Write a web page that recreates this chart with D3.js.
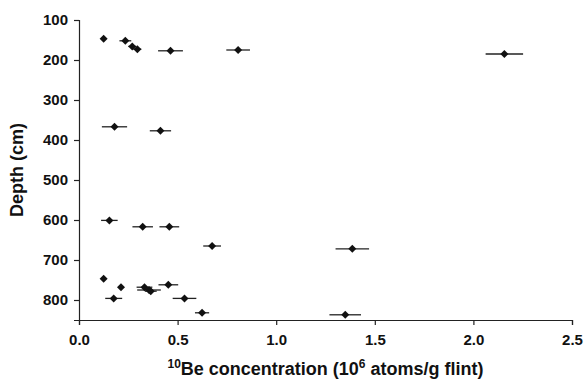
<!DOCTYPE html>
<html>
<head>
<meta charset="utf-8">
<script src="https://cdn.jsdelivr.net/npm/d3@7"></script>
<style>
  body { margin: 0; background: #fff; }
  text { font-family: "Liberation Sans", Arial, sans-serif; font-weight: 700; fill: #111; }
</style>
</head>
<body>
<div id="chart"></div>
<script>
// 10Be concentration (10^6 atoms/g flint) vs depth (cm)
const beConc = [0.125, 0.235, 0.27, 0.296, 0.464, 0.807, 2.157,
                0.18, 0.413,
                0.154, 0.323, 0.458, 0.675, 1.386,
                0.125, 0.213, 0.332, 0.355, 0.364, 0.453, 0.176, 0.535, 0.624, 1.35];
const depth  = [147, 152, 166, 173, 177, 175, 185,
                367, 377,
                601, 617, 617, 665, 672,
                747, 768, 768, 775, 778, 762, 796, 796, 832, 837];
const beErr  = [0.01, 0.03, 0.02, 0.02, 0.063, 0.06, 0.095,
                0.064, 0.054,
                0.042, 0.052, 0.05, 0.045, 0.085,
                0.0, 0.01, 0.04, 0.06, 0.03, 0.05, 0.043, 0.06, 0.036, 0.08];

const xTicks = [0, 0.5, 1.0, 1.5, 2.0, 2.5];
const yTicks = [100, 200, 300, 400, 500, 600, 700, 800];

const width = 584, height = 379;
const margin = {top: 20, right: 12, bottom: 59, left: 79};
const innerW = width - margin.left - margin.right;
const innerH = height - margin.top - margin.bottom;

const data = beConc.map((v, i) => ({v: v, d: depth[i], e: beErr[i]}));

const svg = d3.select("#chart").append("svg")
    .attr("width", width)
    .attr("height", height);

const g = svg.append("g")
    .attr("transform", "translate(" + margin.left + "," + margin.top + ")");

const x = d3.scaleLinear().domain([0, 2.5]).range([0, innerW]);
const y = d3.scaleLinear().domain([100, 850]).range([0, innerH]);

// x axis
const xAxis = g.append("g")
    .attr("transform", "translate(0," + innerH + ")")
    .call(d3.axisBottom(x).tickValues(xTicks).tickFormat(d3.format(".1f")).tickSizeOuter(0).tickSize(5).tickPadding(9));

// y axis
const yAxis = g.append("g")
    .call(d3.axisLeft(y).tickValues(yTicks).tickSizeOuter(0).tickSize(5).tickPadding(6));

[xAxis, yAxis].forEach(a => {
    a.attr("font-family", null).attr("font-size", null);
    a.select(".domain").attr("stroke", "#222").attr("stroke-width", 1.2);
    a.selectAll(".tick line").attr("stroke", "#222").attr("stroke-width", 1.2);
    a.selectAll(".tick text")
        .attr("font-size", "15px")
        .attr("font-weight", "700")
        .attr("fill", "#111");
});

// error bars
g.selectAll(".err").data(data.filter(d => d.e > 0)).enter()
    .append("line")
    .attr("x1", d => x(d.v - d.e))
    .attr("x2", d => x(d.v + d.e))
    .attr("y1", d => y(d.d))
    .attr("y2", d => y(d.d))
    .attr("stroke", "#222")
    .attr("stroke-width", 1.3);

// diamond markers
g.selectAll(".pt").data(data).enter()
    .append("path")
    .attr("d", d3.symbol().type(d3.symbolSquare).size(32))
    .attr("transform", d => "translate(" + x(d.v) + "," + y(d.d) + ") rotate(45)")
    .attr("fill", "#111");

// axis titles
const xl = svg.append("text")
    .attr("x", margin.left + innerW / 2)
    .attr("y", 375)
    .attr("text-anchor", "middle")
    .attr("font-size", "18px")
    .attr("font-weight", "700");
xl.append("tspan").attr("dy", "-7").attr("font-size", "12px").text("10");
xl.append("tspan").attr("dy", "7").text("Be concentration (10");
xl.append("tspan").attr("dy", "-7").attr("font-size", "12px").text("6");
xl.append("tspan").attr("dy", "7").text(" atoms/g flint)");

svg.append("text")
    .attr("transform", "translate(23," + (margin.top + innerH / 2) + ") rotate(-90)")
    .attr("text-anchor", "middle")
    .attr("font-size", "18px")
    .attr("font-weight", "700")
    .text("Depth (cm)");
</script>
</body>
</html>
